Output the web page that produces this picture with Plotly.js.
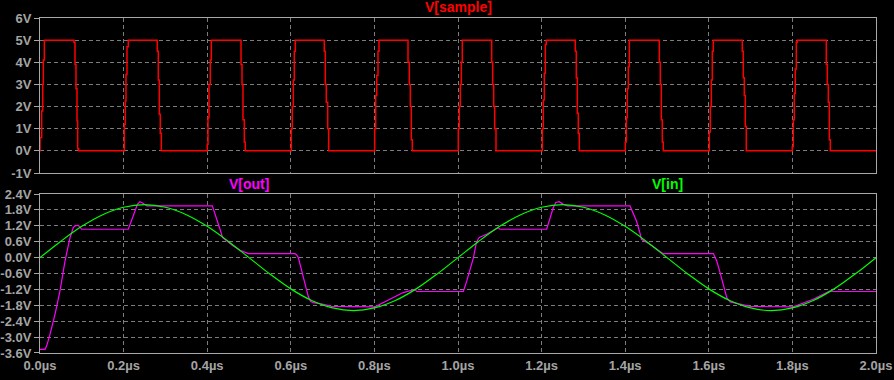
<!DOCTYPE html>
<html>
<head>
<meta charset="utf-8">
<script src="https://cdn.plot.ly/plotly-3.0.1.min.js"></script>
<style>
  html, body { margin: 0; padding: 0; background: #000; }
  #chart { width: 894px; height: 380px; }
</style>
</head>
<body>
<div id="chart"></div>
<script>
// ---- V(sample): stepped pulses (time in µs, value in V) ----
const sampleT = [
  0, 0.0001, 0.004, 0.0065, 0.008, 0.0104, 0.0813, 0.0837, 0.0861, 0.0885, 0.0901, 0.0925,
  0.2017, 0.2041, 0.2057, 0.2081, 0.2112, 0.2806, 0.2830, 0.2854, 0.2878, 0.2902,
  0.4002, 0.4019, 0.4043, 0.4074, 0.4098, 0.4809, 0.4833, 0.4856, 0.4888, 0.4911,
  0.6012, 0.6036, 0.6060, 0.6084, 0.6108, 0.6801, 0.6825, 0.6849, 0.6883, 0.6907,
  0.8007, 0.8031, 0.8055, 0.8086, 0.8110, 0.8804, 0.8835, 0.8859, 0.8883, 0.8907,
  1.0007, 1.0031, 1.0055, 1.0079, 1.0103, 1.0806, 1.0830, 1.0854, 1.0878, 1.0909,
  1.2017, 1.2041, 1.2065, 1.2089, 1.2112, 1.2806, 1.2830, 1.2854, 1.2878, 1.2902,
  1.4002, 1.4026, 1.4050, 1.4074, 1.4098, 1.4816, 1.4840, 1.4864, 1.4888, 1.4911,
  1.6012, 1.6036, 1.6060, 1.6084, 1.6108, 1.6801, 1.6825, 1.6849, 1.6873, 1.6897,
  1.7998, 1.8022, 1.8045, 1.8069, 1.8093, 1.8117, 1.8811, 1.8835, 1.8859, 1.8883, 1.8907, 2.0
];
const sampleV = [
  0, 0.6, 1.8, 3.0, 4.1, 5.0, 4.9, 3.9, 2.8, 1.35, 0.1, 0,
  1.2, 2.25, 3.45, 4.7, 5.0, 4.5, 3.2, 1.65, 0.8, 0,
  0.3, 1.5, 3.0, 4.1, 5.0, 3.9, 3.0, 1.4, 0.4, 0,
  1.0, 2.0, 3.2, 4.5, 5.0, 4.5, 3.0, 2.2, 1.0, 0,
  1.0, 2.5, 3.4, 4.5, 5.0, 4.0, 3.0, 2.0, 0.5, 0,
  1.0, 2.0, 3.0, 4.0, 5.0, 4.0, 3.0, 2.0, 1.0, 0,
  1.0, 2.3, 3.5, 4.8, 5.0, 4.5, 3.3, 1.7, 0.8, 0,
  0.4, 1.5, 2.8, 3.8, 5.0, 4.0, 3.0, 1.4, 0.4, 0,
  0.85, 2.0, 3.2, 4.5, 5.0, 4.5, 3.3, 2.5, 1.1, 0,
  0.2, 1.4, 2.6, 3.7, 4.9, 5.0, 3.9, 3.0, 2.2, 0.5, 0, 0
];

// ---- V(in) ----
const inT = [0, 0.05, 0.1, 0.15, 0.2, 0.25, 0.3, 0.35, 0.4, 0.45, 0.5, 0.55, 0.6, 0.65, 0.7, 0.75,
  0.8, 0.85, 0.9, 0.95, 1.0, 1.05, 1.1, 1.15, 1.2, 1.25, 1.3, 1.35, 1.4, 1.45, 1.5, 1.55, 1.6,
  1.65, 1.7, 1.75, 1.8, 1.85, 1.9, 1.95, 2.0];
const inV = [0, 0.62, 1.18, 1.62, 1.90, 2.0, 1.90, 1.62, 1.18, 0.62, 0, -0.62, -1.18, -1.62, -1.90, -2.0,
  -1.90, -1.62, -1.18, -0.62, 0, 0.62, 1.18, 1.62, 1.90, 2.0, 1.90, 1.62, 1.18, 0.62, 0, -0.62, -1.18,
  -1.62, -1.90, -2.0, -1.90, -1.62, -1.18, -0.62, 0];

// ---- V(out) ----
const outT = [0, 0.012, 0.016, 0.0239, 0.0359, 0.0478, 0.0598, 0.0718, 0.0797, 0.0837, 0.0917, 0.0997,
  0.2113, 0.2193, 0.2273, 0.2329, 0.2392, 0.2472, 0.2552, 0.4123, 0.4226, 0.4306, 0.4370, 0.4466,
  0.4625, 0.4785, 0.4984, 0.6100, 0.614, 0.618, 0.626, 0.634, 0.642, 0.6476, 0.654, 0.678, 0.698,
  0.8014, 0.813, 0.837, 0.869, 0.897, 0.901, 1.0128, 1.021, 1.029, 1.037, 1.043, 1.049, 1.053,
  1.0686, 1.096, 1.1005, 1.2121, 1.220, 1.228, 1.234, 1.242, 1.252, 1.262, 1.4115, 1.419, 1.427,
  1.435, 1.439, 1.459, 1.483, 1.491, 1.611, 1.619, 1.627, 1.635, 1.643, 1.651, 1.675, 1.699, 1.802,
  1.818, 1.850, 1.890, 1.898, 2.0];
const outV = [-3.46, -3.46, -3.33, -2.9, -2.14, -1.26, -0.13, 0.75, 1.13, 1.2, 1.22, 1.07,
  1.07, 1.38, 1.76, 2.01, 2.11, 2.04, 1.95, 1.95, 1.5, 1.07, 0.75, 0.63,
  0.44, 0.28, 0.15, 0.15, 0.1, 0, -0.5, -1.0, -1.48, -1.66, -1.70, -1.76, -1.84,
  -1.86, -1.76, -1.57, -1.32, -1.2, -1.28, -1.28, -0.88, -0.44, 0, 0.5, 0.73, 0.78,
  0.88, 1.13, 1.07, 1.07, 1.51, 1.89, 2.08, 2.11, 2.01, 1.95, 1.95, 1.7, 1.38,
  0.94, 0.69, 0.5, 0.23, 0.15, 0.15, -0.13, -0.57, -1.07, -1.51, -1.67, -1.76, -1.84, -1.86,
  -1.76, -1.57, -1.26, -1.28, -1.28];

// ---- tick labels ----
const xTickVals = [0, 0.2, 0.4, 0.6, 0.8, 1.0, 1.2, 1.4, 1.6, 1.8, 2.0];
const xTickText = ["0.0µs", "0.2µs", "0.4µs", "0.6µs", "0.8µs", "1.0µs", "1.2µs", "1.4µs", "1.6µs", "1.8µs", "2.0µs"];
const topTickVals = [-1, 0, 1, 2, 3, 4, 5, 6];
const topTickText = ["-1V", "0V", "1V", "2V", "3V", "4V", "5V", "6V"];
const botTickVals = [-3.6, -3.0, -2.4, -1.8, -1.2, -0.6, 0.0, 0.6, 1.2, 1.8, 2.4];
const botTickText = ["-3.6V", "-3.0V", "-2.4V", "-1.8V", "-1.2V", "-0.6V", "0.0V", "0.6V", "1.2V", "1.8V", "2.4V"];

const FRAME = '#a8a8a8';
const GRID = '#7c7c7c';
const LABEL = '#a4a4a4';
const tickFont = { family: 'Liberation Sans, Arial, sans-serif', size: 13, color: LABEL, weight: 'bold' };

const traces = [
  { x: sampleT, y: sampleV, xaxis: 'x', yaxis: 'y', mode: 'lines', name: 'V[sample]',
    line: { color: '#ff0000', width: 1.5, shape: 'hv' }, hoverinfo: 'skip' },
  { x: outT, y: outV, xaxis: 'x2', yaxis: 'y2', mode: 'lines', name: 'V[out]',
    line: { color: '#ff00ff', width: 1.2 }, hoverinfo: 'skip' },
  { x: inT, y: inV, xaxis: 'x2', yaxis: 'y2', mode: 'lines', name: 'V[in]',
    line: { color: '#00ff00', width: 1.2, shape: 'spline' }, hoverinfo: 'skip' }
];

const xBase = {
  range: [0, 2], tickvals: xTickVals, ticktext: xTickText,
  showgrid: true, gridcolor: GRID, griddash: '4px,3px', gridwidth: 1,
  zeroline: false, showline: true, mirror: true, linecolor: FRAME, linewidth: 1,
  ticks: '', tickfont: tickFont, fixedrange: true
};
const yBase = {
  showgrid: true, gridcolor: GRID, griddash: '4px,3px', gridwidth: 1,
  zeroline: false, showline: true, mirror: true, linecolor: FRAME, linewidth: 1,
  ticks: 'outside', ticklen: 5, tickcolor: FRAME, tickwidth: 1,
  tickfont: tickFont, fixedrange: true
};

const layout = {
  width: 894, height: 380,
  paper_bgcolor: '#000000', plot_bgcolor: '#000000',
  margin: { l: 40, r: 18, t: 18, b: 27 },
  showlegend: false,
  xaxis: Object.assign({}, xBase, { domain: [0, 1], anchor: 'y', showticklabels: false }),
  yaxis: Object.assign({}, yBase, { domain: [0.5373, 1], anchor: 'x', range: [-1, 6],
    tickvals: topTickVals, ticktext: topTickText }),
  xaxis2: Object.assign({}, xBase, { domain: [0, 1], anchor: 'y2', showticklabels: true }),
  yaxis2: Object.assign({}, yBase, { domain: [0, 0.4746], anchor: 'x2', range: [-3.6, 2.4],
    tickvals: botTickVals, ticktext: botTickText }),
  annotations: [
    { text: 'V[sample]', xref: 'paper', yref: 'paper', x: 0.5, y: 1, yanchor: 'bottom', xanchor: 'center',
      yshift: 1, showarrow: false, font: { family: 'Liberation Sans, Arial, sans-serif', size: 14, color: '#ff0000', weight: 'bold' } },
    { text: 'V[out]', xref: 'paper', yref: 'paper', x: 0.25, y: 0.4746, yanchor: 'bottom', xanchor: 'center',
      yshift: 0, showarrow: false, font: { family: 'Liberation Sans, Arial, sans-serif', size: 14, color: '#ff00ff', weight: 'bold' } },
    { text: 'V[in]', xref: 'paper', yref: 'paper', x: 0.75, y: 0.4746, yanchor: 'bottom', xanchor: 'center',
      yshift: 0, showarrow: false, font: { family: 'Liberation Sans, Arial, sans-serif', size: 14, color: '#00ff00', weight: 'bold' } }
  ]
};

Plotly.newPlot('chart', traces, layout, { displayModeBar: false, staticPlot: true });
</script>
</body>
</html>
